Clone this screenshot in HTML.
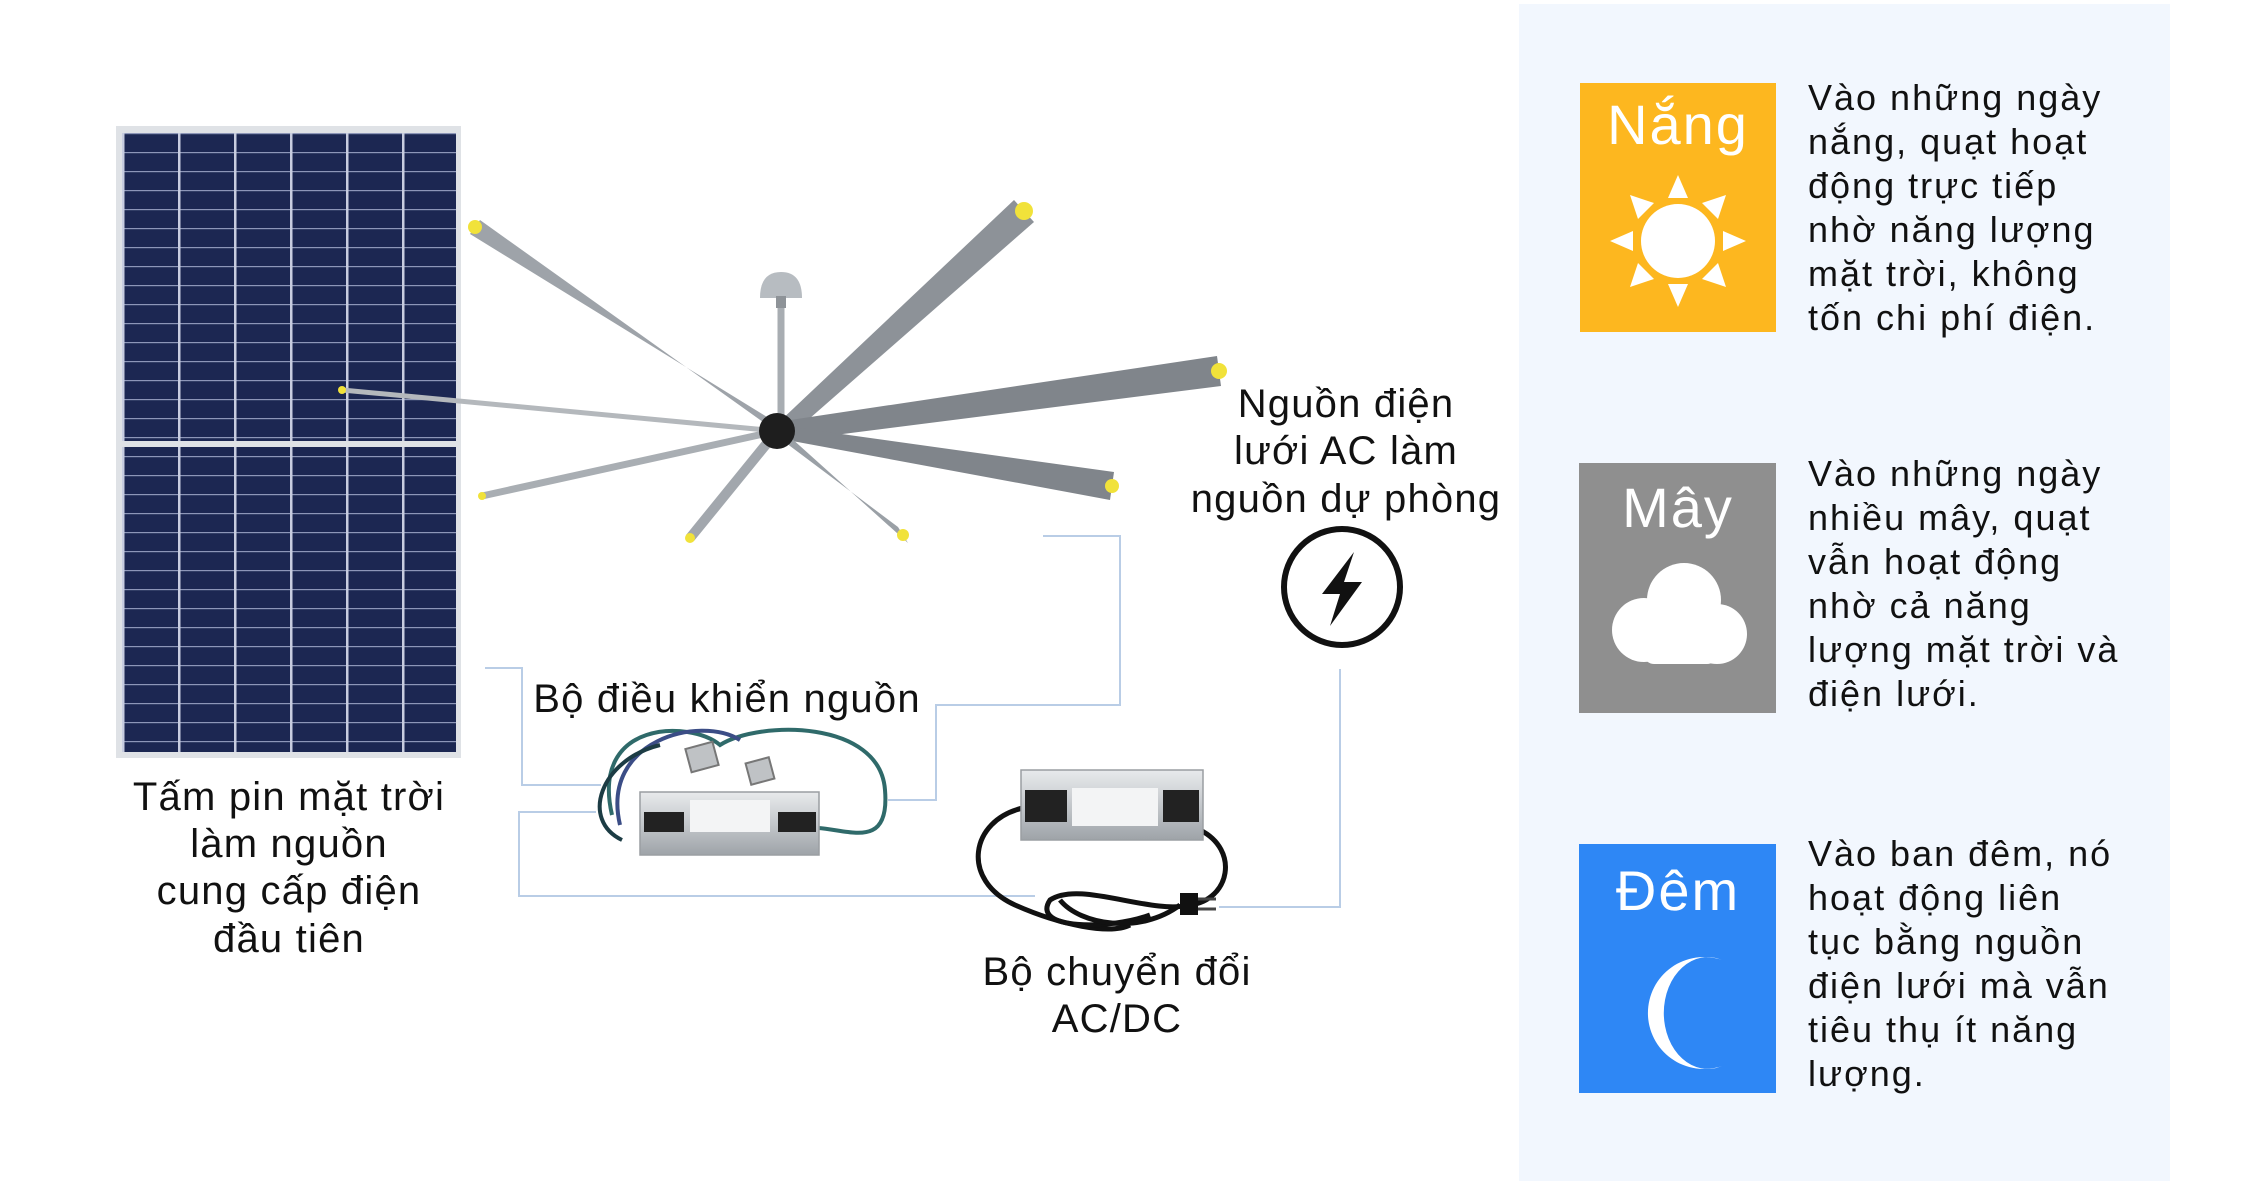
<!DOCTYPE html>
<html><head><meta charset="utf-8"><style>
html,body{margin:0;padding:0;background:#fff;}
svg{display:block;}
text{font-family:"Liberation Sans",sans-serif;fill:#111;}
</style></head><body>
<svg width="2250" height="1181" viewBox="0 0 2250 1181" xmlns="http://www.w3.org/2000/svg">
<defs>
<pattern id="cells" x="122" y="133" width="9.6" height="19" patternUnits="userSpaceOnUse">
<rect width="9.6" height="19" fill="#1c2752"/>
<rect x="0" y="0" width="9.6" height="1.2" fill="#8d96b8"/>
</pattern>
<pattern id="cols" x="122" y="133" width="56" height="400" patternUnits="userSpaceOnUse">
<rect x="0" y="0" width="2.5" height="400" fill="#c8cde0"/>
</pattern>
<linearGradient id="silver" x1="0" y1="0" x2="0" y2="1">
<stop offset="0" stop-color="#e8eaec"/><stop offset="0.5" stop-color="#c4c8cc"/><stop offset="1" stop-color="#9ea3a8"/>
</linearGradient>
</defs>

<rect x="1519" y="4" width="651" height="1177" fill="#f2f7fe"/>

<rect x="116" y="126" width="345" height="632" fill="#dfe2e6"/>
<rect x="122" y="133" width="334" height="308" fill="url(#cells)"/>
<rect x="122" y="133" width="334" height="308" fill="url(#cols)"/>
<rect x="122" y="447" width="334" height="305" fill="url(#cells)"/>
<rect x="122" y="447" width="334" height="305" fill="url(#cols)"/>

<g fill="none" stroke="#b9cde6" stroke-width="2">
<polyline points="1043,536 1120,536 1120,705 936,705 936,800 888,800"/>
<polyline points="485,668 522,668 522,785 601,785"/>
<polyline points="596,812 519,812 519,896 1035,896"/>
<polyline points="1340,669 1340,907 1219,907"/>
</g>

<g>
<line x1="781" y1="300" x2="781" y2="431" stroke="#a8adb2" stroke-width="7"/>
<path d="M760,298 Q760,272 781,272 Q802,272 802,298 Z" fill="#b7bcc1"/>
<rect x="776" y="296" width="10" height="12" fill="#8e9398"/>
<polygon points="777,424 1014,200 1034,222 785,440" fill="#8d9298"/>
<polygon points="777,422 1217,356 1221,386 780,442" fill="#80858b"/>
<polygon points="777,425 1114,472 1110,500 776,438" fill="#80858b"/>
<polygon points="774,434 898,527 908,543 780,428" fill="#9aa0a6"/>
<line x1="777" y1="431" x2="690" y2="538" stroke="#a2a7ad" stroke-width="10"/>
<line x1="777" y1="431" x2="482" y2="496" stroke="#a9aeb3" stroke-width="7"/>
<line x1="777" y1="431" x2="342" y2="390" stroke="#b4b8bc" stroke-width="5"/>
<polygon points="780,425 470,234 480,220 784,437" fill="#9ea3a9"/>
<circle cx="777" cy="431" r="18" fill="#1e1e1e"/>
<circle cx="1024" cy="211" r="9" fill="#f1e23a"/>
<circle cx="1219" cy="371" r="8" fill="#f1e23a"/>
<circle cx="1112" cy="486" r="7" fill="#f1e23a"/>
<circle cx="903" cy="535" r="6" fill="#f1e23a"/>
<circle cx="690" cy="538" r="5" fill="#f1e23a"/>
<circle cx="482" cy="496" r="4" fill="#f1e23a"/>
<circle cx="342" cy="390" r="4" fill="#f1e23a"/>
<circle cx="475" cy="227" r="7" fill="#f1e23a"/>
</g>

<g fill="none" stroke-width="4">
<path d="M612,815 C590,720 690,720 720,745 C760,720 880,720 885,790 C890,850 850,830 818,828" stroke="#2f6a6a"/>
<path d="M620,825 C600,740 700,715 740,740" stroke="#3b4d86"/>
<path d="M622,840 C580,820 600,760 660,745" stroke="#1c3c44"/>
</g>
<rect x="688" y="745" width="28" height="24" fill="#bfc2c5" stroke="#777" stroke-width="2" transform="rotate(-15 702 757)"/>
<rect x="748" y="760" width="24" height="22" fill="#bfc2c5" stroke="#777" stroke-width="2" transform="rotate(-15 760 771)"/>
<rect x="640" y="792" width="179" height="63" fill="url(#silver)" stroke="#9a9ea2" stroke-width="1.5"/>
<rect x="644" y="812" width="40" height="20" fill="#222"/>
<rect x="778" y="812" width="38" height="20" fill="#222"/>
<rect x="690" y="800" width="80" height="32" fill="#f3f4f5"/>

<g fill="none" stroke="#111" stroke-width="5">
<path d="M1023,808 C970,820 960,880 1015,905 C1060,925 1110,935 1130,925"/>
<path d="M1200,830 C1240,850 1230,900 1190,905 C1150,915 1080,880 1050,900 C1030,930 1110,930 1150,915"/>
<path d="M1060,900 C1080,925 1140,935 1180,905"/>
</g>
<rect x="1180" y="893" width="18" height="22" fill="#111"/>
<line x1="1198" y1="899" x2="1216" y2="899" stroke="#444" stroke-width="3"/>
<line x1="1198" y1="909" x2="1216" y2="909" stroke="#444" stroke-width="3"/>
<rect x="1021" y="770" width="182" height="70" fill="url(#silver)" stroke="#9a9ea2" stroke-width="1.5"/>
<rect x="1025" y="790" width="42" height="32" fill="#222"/>
<rect x="1163" y="790" width="36" height="32" fill="#222"/>
<rect x="1072" y="788" width="86" height="38" fill="#f3f4f5"/>

<circle cx="1342" cy="587" r="58" fill="#fff" stroke="#111" stroke-width="6"/>
<path d="M1354,552 L1322,594 L1340,594 L1330,626 L1362,582 L1344,582 Z" fill="#111"/>

<g font-size="40" text-anchor="middle" letter-spacing="1.2">
<text x="289" y="810">Tấm pin mặt trời</text>
<text x="289" y="857">làm nguồn</text>
<text x="289" y="904">cung cấp điện</text>
<text x="289" y="952">đầu tiên</text>
<text x="1346" y="417">Nguồn điện</text>
<text x="1346" y="464">lưới AC làm</text>
<text x="1346" y="512">nguồn dự phòng</text>
<text x="1117" y="985">Bộ chuyển đổi</text>
<text x="1117" y="1032">AC/DC</text>
<text x="727" y="712">Bộ điều khiển nguồn</text>
</g>

<rect x="1580" y="83" width="196" height="249" fill="#fdb71f"/>
<rect x="1579" y="463" width="197" height="250" fill="#8f8f8f"/>
<rect x="1579" y="844" width="197" height="249" fill="#2e87f5"/>
<g font-size="56" text-anchor="middle" letter-spacing="2">
<text x="1678" y="144" style="fill:#fff">Nắng</text>
<text x="1678" y="527" style="fill:#fff">Mây</text>
<text x="1678" y="910" style="fill:#fff">Đêm</text>
</g>
<g fill="#fff">
<circle cx="1678" cy="241" r="37"/>
<polygon points="1678,175 1688,198 1668,198"/>
<polygon points="1678,307 1688,284 1668,284"/>
<polygon points="1610,241 1633,231 1633,251"/>
<polygon points="1746,241 1723,231 1723,251"/>
<polygon points="1630,195 1654,203 1638,219"/>
<polygon points="1726,195 1702,203 1718,219"/>
<polygon points="1630,287 1654,279 1638,263"/>
<polygon points="1726,287 1702,279 1718,263"/>
</g>
<g fill="#fff">
<circle cx="1684" cy="600" r="37"/>
<circle cx="1644" cy="630" r="32"/>
<circle cx="1717" cy="634" r="30"/>
<rect x="1644" y="620" width="73" height="44" rx="10"/>
</g>
<path d="M1722,960 A56,56 0 1 0 1722,1066 A44,56 0 1 1 1722,960 Z" fill="#fff"/>

<g font-size="36" letter-spacing="2">
<text x="1808" y="110">Vào những ngày</text>
<text x="1808" y="154">nắng, quạt hoạt</text>
<text x="1808" y="198">động trực tiếp</text>
<text x="1808" y="242">nhờ năng lượng</text>
<text x="1808" y="286">mặt trời, không</text>
<text x="1808" y="330">tốn chi phí điện.</text>

<text x="1808" y="486">Vào những ngày</text>
<text x="1808" y="530">nhiều mây, quạt</text>
<text x="1808" y="574">vẫn hoạt động</text>
<text x="1808" y="618">nhờ cả năng</text>
<text x="1808" y="662">lượng mặt trời và</text>
<text x="1808" y="706">điện lưới.</text>

<text x="1808" y="866">Vào ban đêm, nó</text>
<text x="1808" y="910">hoạt động liên</text>
<text x="1808" y="954">tục bằng nguồn</text>
<text x="1808" y="998">điện lưới mà vẫn</text>
<text x="1808" y="1042">tiêu thụ ít năng</text>
<text x="1808" y="1086">lượng.</text>
</g>
</svg>
</body></html>
